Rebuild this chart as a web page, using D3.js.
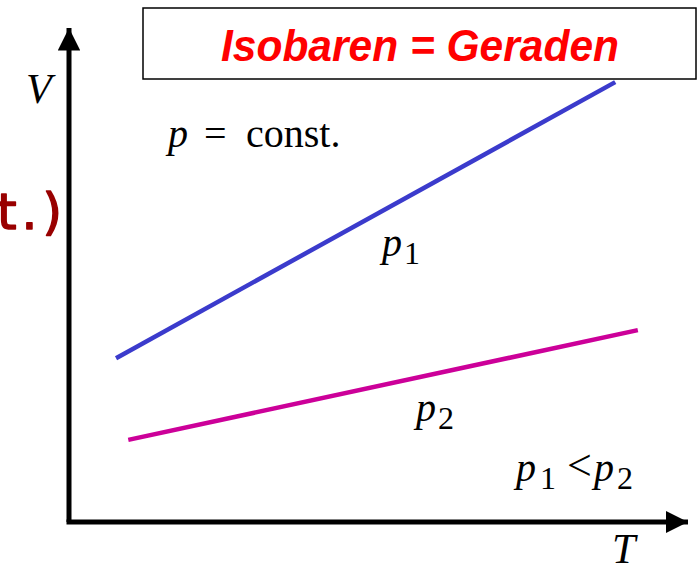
<!DOCTYPE html>
<html>
<head>
<meta charset="utf-8">
<script src="https://cdn.jsdelivr.net/npm/d3@7"></script>
<style>
  body { margin: 0; background: #fff; }
  svg { display: block; }
</style>
</head>
<body>
<svg id="chart" width="697" height="571"></svg>
<script>
// isobars, endpoints in (T, V) units
var seriesNames = ["p1", "p2"];
var p1Line = [{T: 0.77, V: 3.33}, {T: 8.94, V: 8.94}];
var p2Line = [{T: 0.97, V: 1.67}, {T: 9.31, V: 3.90}];
var seriesColors = ["#3b3bcc", "#cc0099"];

var svg = d3.select("#chart");
var x = d3.scaleLinear().domain([0, 10]).range([69, 680]);
var y = d3.scaleLinear().domain([0, 10]).range([522, 30]);

// axes with arrow heads
var defs = svg.append("defs");
defs.append("marker")
    .attr("id", "arrow")
    .attr("viewBox", "0 0 10 10")
    .attr("refX", 10).attr("refY", 5)
    .attr("markerWidth", 4.5).attr("markerHeight", 4.5)
    .attr("markerUnits", "strokeWidth")
    .attr("orient", "auto")
    .append("path").attr("d", "M0,0L10,5L0,10Z").attr("fill", "#000");

svg.append("path")
    .attr("d", "M" + x(0) + "," + y(0) + "V28")
    .attr("stroke", "#000").attr("stroke-width", 5).attr("fill", "none")
    .attr("marker-end", "url(#arrow)");
svg.append("path")
    .attr("d", "M" + (x(0) - 2.5) + "," + y(0) + "H688")
    .attr("stroke", "#000").attr("stroke-width", 5).attr("fill", "none")
    .attr("marker-end", "url(#arrow)");

var line = d3.line().x(d => x(d.T)).y(d => y(d.V));
[p1Line, p2Line].forEach((ds, i) => {
    svg.append("path")
        .datum(ds)
        .attr("fill", "none")
        .attr("stroke", seriesColors[i])
        .attr("stroke-width", 4.5)
        .attr("d", line);
});

// title box
svg.append("rect")
    .attr("x", 143).attr("y", 8).attr("width", 553).attr("height", 71)
    .attr("fill", "#fff").attr("stroke", "#000").attr("stroke-width", 1.5);
svg.append("text")
    .attr("x", 221).attr("y", 61)
    .attr("textLength", 398).attr("lengthAdjust", "spacingAndGlyphs")
    .attr("font-family", "Liberation Sans, Arial, sans-serif")
    .attr("font-weight", "bold").attr("font-style", "italic")
    .attr("font-size", 44).attr("fill", "#ff0000")
    .text("Isobaren = Geraden");

// labels: each piece placed on its own
var serif = "Liberation Serif, Times New Roman, serif";
function piece(px, py, str, size, italic) {
    return svg.append("text").attr("x", px).attr("y", py)
        .attr("font-family", serif).attr("font-size", size)
        .attr("font-style", italic ? "italic" : "normal")
        .attr("fill", "#000").text(str);
}

piece(26, 103, "V", 42, true);
piece(612, 563, "T", 42, true);

piece(168, 147, "p", 40, true);
piece(204, 147, "=", 40);
piece(246, 147, "const.", 40);

piece(382, 256, "p", 40, true);
piece(404, 264, "1", 32);
piece(416, 421, "p", 40, true);
piece(438, 429, "2", 32);

piece(516, 481, "p", 40, true);
piece(540, 489, "1", 32);
piece(567, 480, "<", 44);
piece(594, 481, "p", 40, true);
piece(617, 489, "2", 32);

// clipped leftover text at the edge
svg.append("text")
    .attr("x", 67).attr("y", 229)
    .attr("text-anchor", "end")
    .attr("font-family", "DejaVu Sans, sans-serif")
    .attr("font-size", 50).attr("letter-spacing", 5).attr("fill", "#990000")
    .attr("stroke", "#990000").attr("stroke-width", 1.5).attr("stroke-linejoin", "round")
    .text("t.)");
</script>
</body>
</html>
